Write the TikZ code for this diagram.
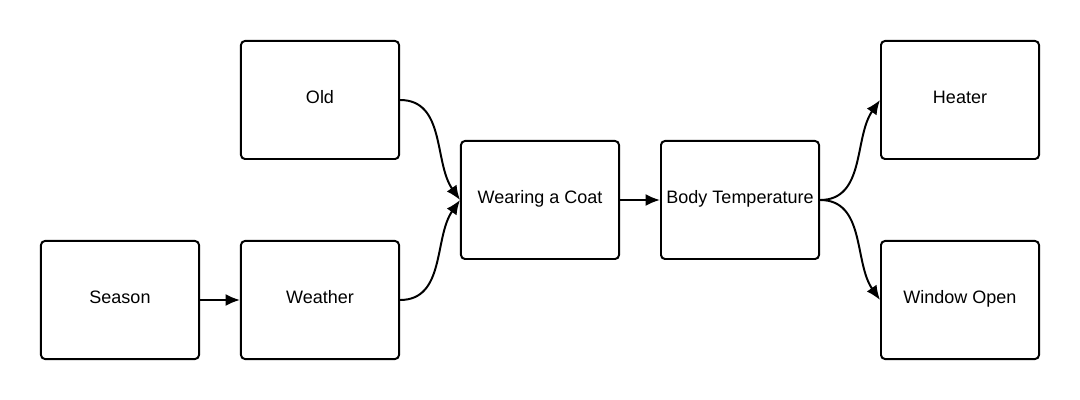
\documentclass[tikz,border=0pt]{standalone}
\usepackage{fontspec}
\setmainfont{Liberation Sans}
\usetikzlibrary{arrows.meta,positioning}

\begin{document}
\begin{tikzpicture}[x=0.025cm, y=-0.025cm,
    causebox/.style={draw, line width=1.4pt, rounded corners=0.1cm,
        minimum width=3.95cm, minimum height=2.95cm,
        text height=0.32cm, text depth=0.15cm,
        font=\fontsize{12.8}{15}\selectfont},
    link/.style={line width=1.4pt, -{Latex[length=0.36cm, width=0.3cm]}}]
    % Canvas
    \useasboundingbox (0,0) rectangle (1080,400);

    % Boxes
    \node[causebox] (old) at (320,100) {Old};
    \node[causebox] (season) at (120,300) {Season};
    \node[causebox] (weather) at (320,300) {Weather};
    \node[causebox] (coat) at (540,200) {Wearing a Coat};
    \node[causebox] (body) at (740,200) {Body Temperature};
    \node[causebox] (heater) at (960,100) {Heater};
    \node[causebox] (window) at (960,300) {Window Open};

    % Links
    \draw[link] (season) -- (weather);
    \draw[link] (old.east) to[out=0, in=125] (coat.west);
    \draw[link] (weather.east) to[out=0, in=235] (coat.west);
    \draw[link] (coat) -- (body);
    \draw[link] (body.east) to[out=0, in=235] (heater.west);
    \draw[link] (body.east) to[out=0, in=125] (window.west);
\end{tikzpicture}
\end{document}
